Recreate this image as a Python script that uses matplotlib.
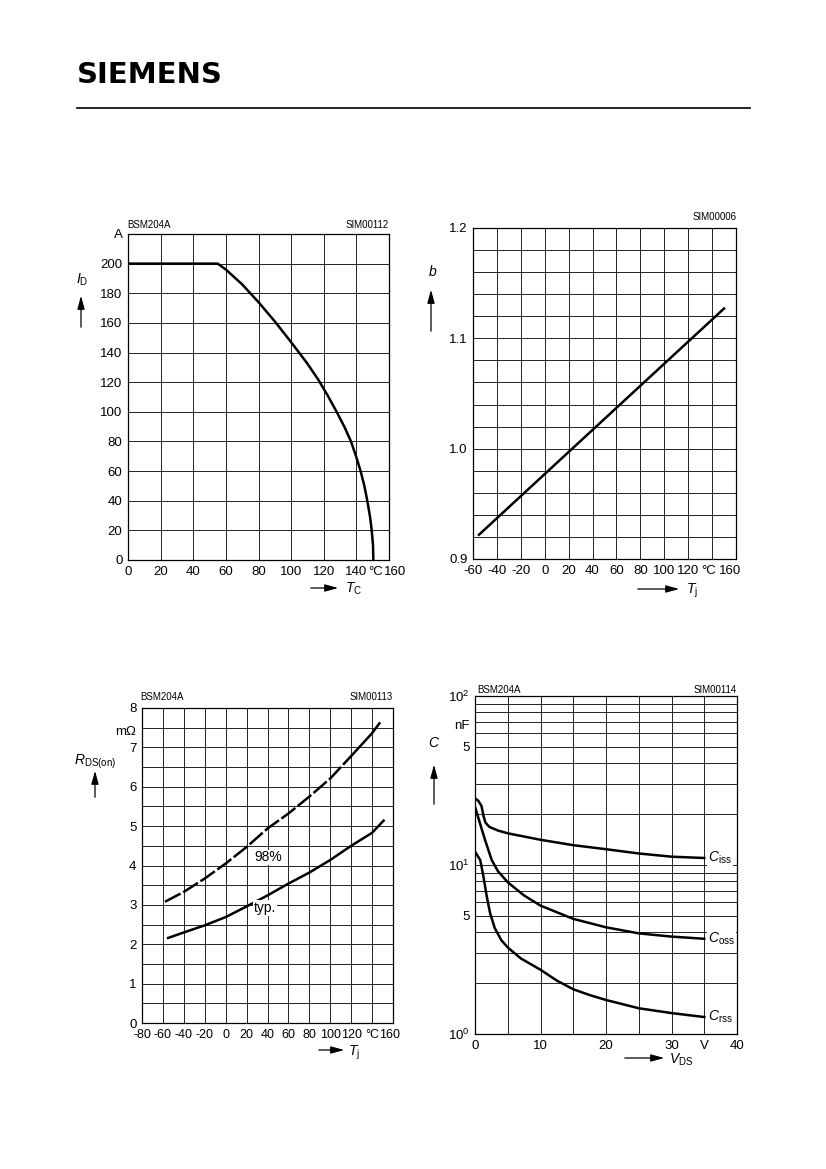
import matplotlib
matplotlib.use("Agg")
import matplotlib.pyplot as plt
from matplotlib import font_manager
from matplotlib.patches import FancyArrowPatch
from matplotlib.lines import Line2D
import numpy as np

W, H = 826, 1169

plt.rcParams['font.family'] = ['Liberation Sans', 'DejaVu Sans']
plt.rcParams['mathtext.fontset'] = 'custom'
plt.rcParams['mathtext.rm'] = 'Liberation Sans'
plt.rcParams['mathtext.it'] = 'Liberation Sans:italic'
plt.rcParams['mathtext.bf'] = 'Liberation Sans:bold'

# fuente estrecha para las marcas de los ejes (si esta instalada)
disponibles = {f.name for f in font_manager.fontManager.ttflist}
if 'Liberation Sans Narrow' in disponibles:
    FUENTE_TICKS = 'Liberation Sans Narrow'
    TAM_TICKS = 11
else:
    FUENTE_TICKS = 'Liberation Sans'
    TAM_TICKS = 9.5

# --- datos: I_D = f(T_C) ---
tc_temp = [0, 55, 60, 70, 80, 90, 100, 110, 116.7, 122.2, 127.9, 132.6, 136.7,
           139.8, 142.6, 144.9, 146.7, 148.4, 149.4, 150.2, 150.4]
id_current = [200, 200, 196, 186, 174, 161, 147, 132.5, 121.6, 111.4, 100, 90, 80,
              70, 60, 50, 40, 29, 20, 10, 0]

# --- datos: b = f(T_j) ---
b_temp = [-55, 150]
b_factor = [0.922, 1.127]

# --- datos: R_DS(on) = f(T_j) ---
rds_temp_98 = [-58, -40, -20, 0, 20, 40, 60, 80, 100, 120, 140, 147]
rds_98 = [3.08, 3.33, 3.67, 4.05, 4.47, 4.94, 5.32, 5.75, 6.21, 6.78, 7.36, 7.61]
rds_temp_typ = [-55, -40, -20, 0, 20, 40, 60, 80, 100, 120, 140, 151]
rds_typ = [2.16, 2.3, 2.48, 2.69, 2.96, 3.24, 3.54, 3.82, 4.14, 4.5, 4.83, 5.14]

# --- datos: C = f(V_DS) ---
ciss_v = [0, 0.5, 1.0, 1.3, 1.6, 2.2, 3.5, 5, 10, 15, 20, 25, 30, 35]
ciss = [24.8, 24.0, 22.3, 19.5, 17.8, 16.8, 16.0, 15.4, 14.1, 13.1, 12.4, 11.7, 11.2, 11.0]
coss_v = [0, 0.75, 1.55, 2.55, 3.5, 5, 7.5, 10, 15, 20, 25, 30, 35]
coss = [22.1, 17.7, 14.0, 10.7, 9.2, 7.9, 6.6, 5.75, 4.8, 4.28, 3.94, 3.77, 3.66]
crss_v = [0, 0.8, 1.3, 1.8, 2.3, 3.0, 4.0, 5, 7, 10, 12.5, 15, 17.5, 20, 25, 30, 35]
crss = [12.0, 10.7, 8.5, 6.5, 5.2, 4.25, 3.6, 3.25, 2.8, 2.4, 2.07, 1.84, 1.7,
        1.59, 1.42, 1.33, 1.26]


def box(x0, y0, x1, y1):
    # pixeles (origen arriba-izquierda) -> fracciones de figura
    return [x0 / W, 1 - y1 / H, (x1 - x0) / W, (y1 - y0) / H]


def fxy(x, y):
    return (x / W, 1 - y / H)


def flecha(fig, p0, p1):
    a = FancyArrowPatch(fxy(*p0), fxy(*p1), transform=fig.transFigure,
                        arrowstyle='-|>,head_length=0.8,head_width=0.22',
                        mutation_scale=10, lw=0.9, color='k')
    fig.add_artist(a)


def estilo(ax):
    for s in ax.spines.values():
        s.set_linewidth(0.9)
    ax.tick_params(which='both', length=0, labelsize=TAM_TICKS, pad=4)
    for lab in ax.get_xticklabels(which='both') + ax.get_yticklabels(which='both'):
        lab.set_family(FUENTE_TICKS)
    ax.grid(True, which='both', color='k', lw=0.6)
    ax.set_axisbelow(True)


def etiqueta_x(ax, x, s, tam=None):
    ax.annotate(s, xy=(x, 0), xycoords=('data', 'axes fraction'),
                xytext=(0, -4), textcoords='offset points',
                ha='center', va='top', fontsize=tam or TAM_TICKS, family=FUENTE_TICKS)


def etiqueta_y(ax, y, s):
    ax.annotate(s, xy=(0, y), xycoords=('axes fraction', 'data'),
                xytext=(-4, 0), textcoords='offset points',
                ha='right', va='center', fontsize=TAM_TICKS, family=FUENTE_TICKS)


fig = plt.figure(figsize=(W / 100, H / 100), dpi=100)

# cabecera
fig.text(*fxy(77, 83), 'SIEMENS', fontsize=21, fontweight='bold',
         family='DejaVu Sans', va='baseline')
fig.add_artist(Line2D([77 / W, 750 / W], [1 - 108 / H] * 2, color='k', lw=1.2))

# ---------- grafico 1 ----------
ax1 = fig.add_axes(box(128, 234, 389, 560))
ax1.plot(tc_temp, id_current, color='k', lw=1.8)
ax1.set_xlim(0, 160)
ax1.set_ylim(0, 220)
ax1.set_xticks(np.arange(0, 161, 20))
ax1.set_xticklabels([str(v) for v in range(0, 121, 20)] + ['', ''])
ax1.set_yticks(np.arange(0, 221, 20))
ax1.set_yticklabels([str(v) for v in range(0, 201, 20)] + ['A'])
estilo(ax1)
etiqueta_x(ax1, 140, '140')
etiqueta_x(ax1, 151.8, '°C')
etiqueta_x(ax1, 163.8, '160')
fig.text(*fxy(127, 225), 'BSM204A', fontsize=7, va='center')
fig.text(*fxy(389, 225), 'SIM00112', fontsize=7, va='center', ha='right')
fig.text(*fxy(82, 280), r'$I_\mathrm{D}$', fontsize=10, ha='center', va='center')
flecha(fig, (81, 330), (81, 293))
flecha(fig, (308, 588), (341, 588))
fig.text(*fxy(345, 589), r'$T_\mathrm{C}$', fontsize=10, va='center')

# ---------- grafico 2 ----------
ax2 = fig.add_axes(box(473, 228, 736, 559))
ax2.plot(b_temp, b_factor, color='k', lw=1.8)
ax2.set_xlim(-60, 160)
ax2.set_ylim(0.9, 1.2)
ax2.set_xticks(np.arange(-60, 161, 20))
ax2.set_xticklabels([str(v) for v in range(-60, 121, 20)] + ['', ''])
ax2.set_yticks([0.9, 1.0, 1.1, 1.2])
ax2.set_yticklabels(['0.9', '1.0', '1.1', '1.2'])
ax2.set_yticks(np.arange(0.9, 1.2, 0.02), minor=True)
estilo(ax2)
etiqueta_x(ax2, 137, '°C')
etiqueta_x(ax2, 155, '160')
fig.text(*fxy(737, 217), 'SIM00006', fontsize=7, va='center', ha='right')
fig.text(*fxy(433, 272), r'$b$', fontsize=10, ha='center', va='center')
flecha(fig, (431, 334), (431, 287))
flecha(fig, (635, 589), (682, 589))
fig.text(*fxy(686, 591), r'$T_\mathrm{j}$', fontsize=10, va='center')

# ---------- grafico 3 ----------
ax3 = fig.add_axes(box(142, 708, 393, 1023))
corte = rds_temp_98.index(120)
ax3.plot(rds_temp_98[:corte + 1], rds_98[:corte + 1], color='k', lw=1.8,
         ls=(0, (7, 1.2)))
ax3.plot(rds_temp_98[corte:], rds_98[corte:], color='k', lw=1.8)
ax3.plot(rds_temp_typ, rds_typ, color='k', lw=1.8)
ax3.set_xlim(-80, 160)
ax3.set_ylim(0, 8)
ax3.set_xticks(np.arange(-80, 161, 20))
ax3.set_xticklabels([str(v) for v in range(-80, 121, 20)] + ['', ''])
ax3.set_yticks(np.arange(0, 9, 1))
ax3.set_yticks(np.arange(0.5, 8, 1), minor=True)
estilo(ax3)
for lab in ax3.get_xticklabels():
    lab.set_fontsize(TAM_TICKS - 0.5)
etiqueta_x(ax3, 140, '°C', TAM_TICKS - 0.5)
etiqueta_x(ax3, 157, '160', TAM_TICKS - 0.5)
etiqueta_y(ax3, 7.4, 'mΩ')
ax3.text(40.5, 4.21, '98%', fontsize=10, ha='center', va='center',
         bbox=dict(fc='white', ec='none', pad=0.5))
ax3.text(37.6, 2.92, 'typ.', fontsize=10, ha='center', va='center',
         bbox=dict(fc='white', ec='none', pad=0.5))
fig.text(*fxy(140, 697), 'BSM204A', fontsize=7, va='center')
fig.text(*fxy(393, 697), 'SIM00113', fontsize=7, va='center', ha='right')
fig.text(*fxy(95, 762), r'$R_\mathrm{DS(on)}$', fontsize=10, ha='center', va='center')
flecha(fig, (95, 800), (95, 768))
flecha(fig, (316, 1050), (347, 1050))
fig.text(*fxy(348, 1053), r'$T_\mathrm{j}$', fontsize=10, va='center')

# ---------- grafico 4 ----------
ax4 = fig.add_axes(box(475, 696, 737, 1034))
ax4.plot(ciss_v, ciss, color='k', lw=1.8)
ax4.plot(coss_v, coss, color='k', lw=1.8)
ax4.plot(crss_v, crss, color='k', lw=1.8)
ax4.set_yscale('log')
ax4.set_xlim(0, 40)
ax4.set_ylim(1, 100)
ax4.set_xticks(np.arange(0, 41, 5))
ax4.set_xticklabels(['0', '', '10', '', '20', '', '30', 'V', '40'])
ax4.set_yticks([1, 10, 100])
ax4.set_yticklabels([r'$10^0$', r'$10^1$', r'$10^2$'])
menores = [2, 3, 4, 5, 6, 7, 8, 9, 20, 30, 40, 50, 60, 70, 80, 90]
ax4.set_yticks(menores, minor=True)
ax4.set_yticklabels(['5' if m in (5, 50) else '' for m in menores], minor=True)
estilo(ax4)
etiqueta_y(ax4, 66, 'nF')
for etiqueta, yv in [(r'$C_\mathrm{iss}$', ciss[-1]), (r'$C_\mathrm{oss}$', coss[-1]),
                     (r'$C_\mathrm{rss}$', crss[-1])]:
    ax4.text(35.6, yv, etiqueta, fontsize=10, ha='left', va='center',
             bbox=dict(fc='white', ec='none', pad=0.5))
fig.text(*fxy(477, 690), 'BSM204A', fontsize=7, va='center')
fig.text(*fxy(737, 690), 'SIM00114', fontsize=7, va='center', ha='right')
fig.text(*fxy(434, 743), r'$C$', fontsize=10, ha='center', va='center')
flecha(fig, (434, 807), (434, 762))
flecha(fig, (622, 1058), (667, 1058))
fig.text(*fxy(669, 1060), r'$V_\mathrm{DS}$', fontsize=10, va='center')

fig.savefig('out.png', dpi=100)
